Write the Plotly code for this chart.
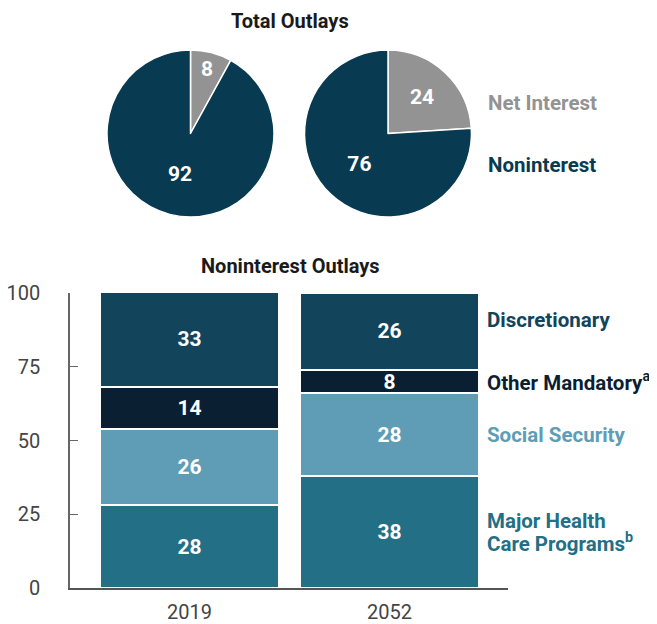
import plotly.graph_objects as go

# Total outlays split (percent)
pie_labels = ["Net Interest", "Noninterest"]
pie_2019 = [8, 92]
pie_2052 = [24, 76]
pie_colors = ["#939393", "#083b51"]

# Noninterest outlays by category (percent), bottom to top
years = ["2019", "2052"]
categories = ["Major Health<br>Care Programs<sup>b</sup>", "Social Security",
              "Other Mandatory<sup>a</sup>", "Discretionary"]
health = [28, 38]
social_security = [26, 28]
other_mandatory = [14, 8]
discretionary = [33, 26]
series = [health, social_security, other_mandatory, discretionary]
bar_colors = ["#236f85", "#5e9db5", "#0b1f33", "#12455c"]

FONT = "Roboto, Arial, sans-serif"
# page body has an 8px margin, so the figure is drawn 8px in from the corner
OFF = 8
W, H = 657 - OFF, 624 - OFF


def px_x(x):
    return (x - OFF) / W


def px_y(y):
    return 1 - (y - OFF) / H


fig = go.Figure()

# pies
for vals, dom in [(pie_2019, [107, 274]), (pie_2052, [304, 472])]:
    fig.add_trace(go.Pie(
        labels=pie_labels, values=vals, sort=False, direction="clockwise",
        marker=dict(colors=pie_colors, line=dict(color="white", width=1.5)),
        textinfo="value", textposition="inside", insidetextorientation="horizontal",
        textfont=dict(family=FONT, size=21, color="white", weight="bold"),
        domain=dict(x=[px_x(dom[0]), px_x(dom[1])], y=[px_y(217), px_y(50)]),
        showlegend=False, hoverinfo="label+value",
    ))

# stacked bars
for name, vals, col in zip(categories, series, bar_colors):
    fig.add_trace(go.Bar(
        x=years, y=vals, name=name, marker=dict(color=col, line=dict(color="white", width=2)),
        text=vals, textposition="inside", insidetextanchor="middle", textangle=0,
        textfont=dict(family=FONT, size=21, color="white", weight="bold"),
        showlegend=False,
    ))

# right-hand category labels next to the 2052 bar
annotations = []
last = [s[-1] for s in series]
nudge = {"Discretionary": 4}
base = 0
for name, v, col in zip(categories, last, bar_colors):
    mid = base + v / 2 + nudge.get(name, 0)
    base += v
    lines = name.split("<br>")
    for i, line in enumerate(lines):
        shift = ((len(lines) - 1) / 2 - i) * 22
        annotations.append(dict(
            x=1.475, y=mid, xref="x", yref="y", text=line, showarrow=False,
            xanchor="left", yanchor="middle", align="left", yshift=shift,
            font=dict(family=FONT, size=20.5, color=col, weight="bold"),
        ))

# pie legend labels
for text, y, col in [("Net Interest", 103, pie_colors[0]), ("Noninterest", 165, pie_colors[1])]:
    annotations.append(dict(
        x=px_x(486), y=px_y(y), xref="paper", yref="paper", text=text, showarrow=False,
        xanchor="left", yanchor="middle",
        font=dict(family=FONT, size=20.5, color=col, weight="bold"),
    ))

# titles
for text, y in [("Total Outlays", 21), ("Noninterest Outlays", 266)]:
    annotations.append(dict(
        x=px_x(290), y=px_y(y), xref="paper", yref="paper", text=text, showarrow=False,
        xanchor="center", yanchor="middle",
        font=dict(family=FONT, size=20, color="#1a1a1a", weight="bold"),
    ))

fig.update_layout(
    width=W, height=H, barmode="stack", bargap=0.105,
    margin=dict(l=0, r=0, t=0, b=0),
    paper_bgcolor="white", plot_bgcolor="white",
    uniformtext=dict(minsize=20, mode="show"),
    annotations=annotations,
    xaxis=dict(
        domain=[px_x(70), px_x(508)], range=[-0.5975, 1.5925], automargin=False,
        showline=True, linecolor="#555", linewidth=1.5, ticks="",
        tickfont=dict(family=FONT, size=20, color="#444"), ticklabelstandoff=5,
        showgrid=False, zeroline=False,
    ),
    yaxis=dict(
        domain=[px_y(588), px_y(293)], range=[0, 100], tickvals=[0, 25, 50, 75, 100],
        automargin=False,
        showline=True, linecolor="#666", linewidth=1.5,
        ticks="inside", ticklen=8, tickcolor="#666",
        tickfont=dict(family=FONT, size=20, color="#444"), ticklabelstandoff=24,
        showgrid=False, zeroline=False,
    ),
)

fig.write_html("out.html")
